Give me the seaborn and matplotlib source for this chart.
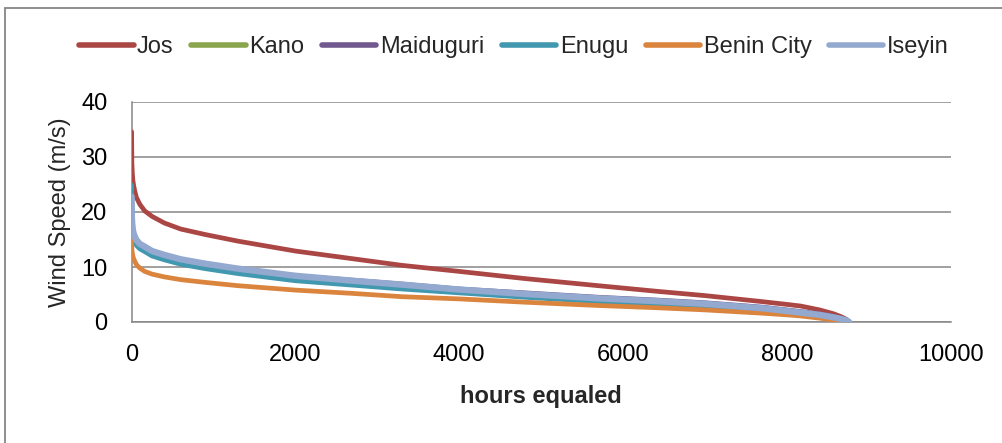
import matplotlib
matplotlib.use("Agg")
import matplotlib.pyplot as plt
import matplotlib.patches as mpatches
import seaborn as sns
import pandas as pd

# Sorted hourly wind speeds (duration curve), sampled at these hour ranks
hours = [0, 3, 8, 15, 25, 40, 60, 100, 160, 250, 400, 600, 900, 1300, 2000, 2700,
         3300, 4000, 4800, 5700, 6400, 7000, 7700, 8000, 8170, 8400, 8570, 8650,
         8700, 8740, 8760]

jos = [34.6, 29.0, 27.2, 25.8, 24.8, 23.7, 22.6, 21.4, 20.2, 19.2, 18.0, 16.9, 15.9,
       14.7, 12.9, 11.5, 10.3, 9.2, 7.9, 6.6, 5.6, 4.8, 3.7, 3.2, 2.9, 2.2, 1.5, 1.05,
       0.7, 0.35, 0.0]
kano = [19.0, 17.5, 16.6, 16.0, 15.4, 14.8, 14.3, 13.7, 13.2, 12.5, 11.8, 11.1, 10.3,
        9.4, 8.2, 7.3, 6.6, 5.7, 4.9, 4.1, 3.6, 3.1, 2.4, 1.9, 1.6, 1.2, 0.8, 0.55,
        0.35, 0.18, 0.0]
maiduguri = [20.5, 18.2, 17.2, 16.4, 15.8, 15.2, 14.7, 14.0, 13.5, 12.8, 12.1, 11.3,
             10.5, 9.6, 8.4, 7.6, 6.9, 6.0, 5.3, 4.5, 4.0, 3.5, 2.7, 2.2, 1.9, 1.5,
             1.0, 0.75, 0.5, 0.25, 0.0]
enugu = [24.9, 18.5, 16.5, 15.7, 15.0, 14.4, 13.9, 13.3, 12.8, 12.0, 11.3, 10.5, 9.7,
         8.8, 7.5, 6.7, 6.0, 5.3, 4.5, 3.7, 3.3, 2.8, 2.1, 1.7, 1.4, 1.0, 0.7, 0.45,
         0.3, 0.15, 0.0]
benin_city = [15.2, 13.3, 12.6, 12.0, 11.5, 11.0, 10.4, 9.8, 9.2, 8.7, 8.2, 7.7, 7.2,
              6.6, 5.8, 5.2, 4.6, 4.2, 3.6, 3.0, 2.6, 2.2, 1.6, 1.3, 1.1, 0.7, 0.35,
              0.2, 0.1, 0.05, 0.0]
iseyin = [22.8, 19.0, 17.8, 16.8, 16.1, 15.5, 14.9, 14.2, 13.7, 12.9, 12.2, 11.4, 10.6,
          9.7, 8.4, 7.5, 6.8, 5.9, 5.1, 4.3, 3.8, 3.3, 2.5, 2.0, 1.7, 1.3, 0.85, 0.6,
          0.4, 0.2, 0.0]

stations = ["Jos", "Kano", "Maiduguri", "Enugu", "Benin City", "Iseyin"]
series = [jos, kano, maiduguri, enugu, benin_city, iseyin]
colors = ["#AA4643", "#89A54E", "#71588F", "#4198AF", "#DB843D", "#93A9CF"]
widths = [3.4, 3.4, 3.4, 3.4, 3.4, 4.6]

x_ticks = [0, 2000, 4000, 6000, 8000, 10000]
y_ticks = [0, 10, 20, 30, 40]

frames = []
for name, vals in zip(stations, series):
    frames.append(pd.DataFrame({"hours": hours, "speed": vals, "station": name}))
df = pd.concat(frames, ignore_index=True)

sns.set_style("white")
plt.rcParams["font.family"] = ["Liberation Sans", "DejaVu Sans"]

W, H = 1002, 443
fig = plt.figure(figsize=(W / 100, H / 100), dpi=100)
ax = fig.add_axes([131.6 / W, 1 - 322 / H, 819 / W, 220 / H])

grey = "#868686"
for name, col, lw in zip(stations, colors, widths):
    sub = df[df["station"] == name]
    sns.lineplot(data=sub, x="hours", y="speed", ax=ax, color=col, lw=lw,
                 label=name, solid_capstyle="round", solid_joinstyle="round",
                 zorder=3)

ax.set_xlim(0, 10000)
ax.set_ylim(0, 40)
ax.set_xticks(x_ticks)
ax.set_yticks(y_ticks)
ax.set_xticklabels([str(t) for t in x_ticks])
ax.set_yticklabels([str(t) for t in y_ticks])
ax.tick_params(axis="both", labelsize=17, colors="black", length=5.5,
               width=1.1, direction="out")
ax.tick_params(axis="x", pad=10, color=grey)
ax.tick_params(axis="y", pad=12, color=grey)

ax.yaxis.grid(True, color=grey, lw=1.1)
ax.xaxis.grid(False)
ax.set_axisbelow(True)
for side in ["top", "right"]:
    ax.spines[side].set_visible(False)
for side in ["left", "bottom"]:
    ax.spines[side].set_color(grey)
    ax.spines[side].set_linewidth(1.1)
    ax.spines[side].set_zorder(2)

ax.set_xlabel("hours equaled", fontsize=17, fontweight="bold", labelpad=14)
ax.set_ylabel("Wind Speed (m/s)", fontsize=17)
ax.yaxis.set_label_coords((60 - 131.6) / 819, 0.5)
ax.yaxis.label.set_verticalalignment("center")

leg = ax.legend(loc="center", bbox_to_anchor=(514 / W, 1 - 47 / H),
                bbox_transform=fig.transFigure, ncol=6, frameon=False,
                fontsize=17, handlelength=2.3, handletextpad=0.15,
                columnspacing=0.75, borderaxespad=0)
for line in leg.get_lines():
    line.set_linewidth(4.0)
    line.set_solid_capstyle("round")

# chart-area border
fig.patches.append(mpatches.Rectangle((4.5 / W, -0.2), 1.5, 1 - 7.5 / H + 0.2,
                                      transform=fig.transFigure, fill=False,
                                      edgecolor=grey, lw=1.3))

fig.savefig("out.png", dpi=100)
